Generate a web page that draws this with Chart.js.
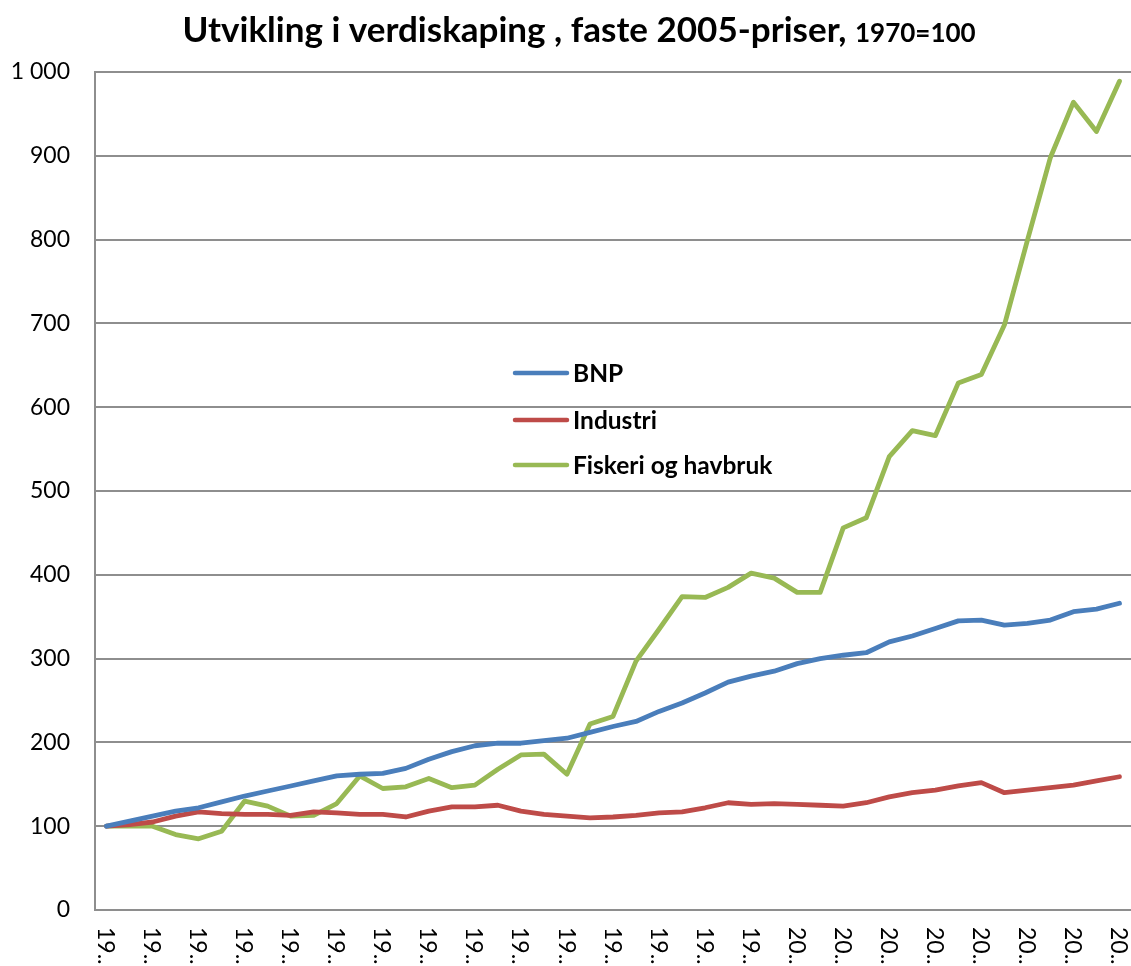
<!DOCTYPE html>
<html>
<head>
<meta charset="utf-8">
<script src="https://cdn.jsdelivr.net/npm/chart.js@4.4.1/dist/chart.umd.min.js"></script>
<style>
  html, body { margin: 0; padding: 0; background: #fff; }
  #wrap { width: 1131px; height: 966px; }
</style>
</head>
<body>
<div id="wrap"><canvas id="chart"></canvas></div>
<script>
const years = [
  "1970", "1971", "1972", "1973", "1974", "1975", "1976", "1977", "1978", "1979",
  "1980", "1981", "1982", "1983", "1984", "1985", "1986", "1987", "1988", "1989",
  "1990", "1991", "1992", "1993", "1994", "1995", "1996", "1997", "1998", "1999",
  "2000", "2001", "2002", "2003", "2004", "2005", "2006", "2007", "2008", "2009",
  "2010", "2011", "2012", "2013", "2014",
];

const bnp = [
  100, 106, 112, 118, 122, 129, 136, 142, 148, 154,
  160, 162, 163, 169, 180, 189, 196, 199, 199, 202,
  205, 212, 219, 225, 237, 247, 259, 272, 279, 285,
  294, 300, 304, 307, 320, 327, 336, 345, 346, 340,
  342, 346, 356, 359, 366,
];

const industri = [
  100, 102, 105, 112, 117, 115, 114, 114, 113, 117,
  116, 114, 114, 111, 118, 123, 123, 125, 118, 114,
  112, 110, 111, 113, 116, 117, 122, 128, 126, 127,
  126, 125, 124, 128, 135, 140, 143, 148, 152, 140,
  143, 146, 149, 154, 159,
];

const fiskeri = [
  100, 100, 100, 90, 85, 94, 130, 124, 112, 113,
  127, 160, 145, 147, 157, 146, 149, 168, 185, 186,
  162, 222, 231, 297, 335, 374, 373, 385, 402, 396,
  379, 379, 456, 468, 541, 572, 566, 629, 639, 698,
  799, 898, 964, 929, 989,
];

const yTicks = [0, 100, 200, 300, 400, 500, 600, 700, 800, 900, 1000];

const FONT = "Lato, 'Open Sans', sans-serif";

// title with a smaller suffix, like the Excel original
const titlePlugin = {
  id: "mixedTitle",
  afterDraw(chart) {
    const ctx = chart.ctx;
    const big = "Utvikling i verdiskaping , faste 2005-priser, ";
    const small = "1970=100";
    ctx.save();
    ctx.fillStyle = "#000";
    ctx.textBaseline = "alphabetic";
    ctx.font = "bold 35px " + FONT;
    const w1 = ctx.measureText(big).width;
    ctx.font = "bold 26px " + FONT;
    const w2 = ctx.measureText(small).width;
    const x = 579 - (w1 + w2) / 2;
    ctx.textAlign = "left";
    ctx.font = "bold 35px " + FONT;
    ctx.fillText(big, x, 42);
    ctx.font = "bold 26px " + FONT;
    ctx.fillText(small, x + w1, 42);
    ctx.restore();
  },
};

// x labels: every other year, cut to "19.." and turned clockwise
const xLabelPlugin = {
  id: "xLabels",
  afterDraw(chart) {
    const ctx = chart.ctx;
    const xs = chart.scales.x;
    ctx.save();
    ctx.fillStyle = "#000";
    ctx.font = "23px " + FONT;
    ctx.textAlign = "left";
    ctx.textBaseline = "middle";
    years.forEach((y, i) => {
      if (i % 2 !== 0) return;
      const px = xs.getPixelForValue(i);
      ctx.save();
      ctx.translate(px - 1, chart.chartArea.bottom + 17);
      ctx.rotate(Math.PI / 2);
      ctx.fillText(y.slice(0, 2) + "..", 0, 0);
      ctx.restore();
    });
    ctx.restore();
  },
};

// legend sits inside the plot area
const legendPlugin = {
  id: "innerLegend",
  afterDraw(chart) {
    const ctx = chart.ctx;
    const x0 = 515, rowY = [373, 420, 465];
    ctx.save();
    ctx.font = "bold 24.5px " + FONT;
    ctx.textBaseline = "middle";
    ctx.textAlign = "left";
    chart.data.datasets.forEach((ds, i) => {
      ctx.strokeStyle = ds.borderColor;
      ctx.lineWidth = 4.5;
      ctx.lineCap = "round";
      ctx.beginPath();
      ctx.moveTo(x0, rowY[i]);
      ctx.lineTo(x0 + 52, rowY[i]);
      ctx.stroke();
      ctx.fillStyle = "#000";
      ctx.fillText(ds.label, x0 + 58, rowY[i] + 1);
    });
    ctx.restore();
  },
};

const ctx = document.getElementById("chart");

const data = {
  labels: years,
  datasets: [
    {
      label: "BNP",
      data: bnp,
      borderColor: "#4a7ebb",
      backgroundColor: "#4a7ebb",
    },
    {
      label: "Industri",
      data: industri,
      borderColor: "#be4b48",
      backgroundColor: "#be4b48",
    },
    {
      label: "Fiskeri og havbruk",
      data: fiskeri,
      borderColor: "#98b954",
      backgroundColor: "#98b954",
    },
  ],
};

const config = {
  type: "line",
  data,
  options: {
    responsive: true,
    maintainAspectRatio: false,
    animation: false,
    devicePixelRatio: 1,
    layout: {
      padding: { top: 72, bottom: 48, left: 0, right: 0 },
    },
    elements: {
      line: { borderWidth: 4.8, tension: 0, borderJoinStyle: "round", borderCapStyle: "round" },
      point: { radius: 0, hoverRadius: 0 },
    },
    scales: {
      x: {
        offset: true,
        grid: { display: false, offset: true },
        border: { display: true, color: "#8e8e8e", width: 2 },
        ticks: { display: false },
      },
      y: {
        min: 0,
        max: 1000,
        afterBuildTicks(scale) {
          scale.ticks = yTicks.map((v) => ({ value: v }));
        },
        afterFit(scale) {
          scale.width = 95;
        },
        grid: { color: "#8e8e8e", lineWidth: 2, drawTicks: false },
        border: { display: true, color: "#8e8e8e", width: 2 },
        ticks: {
          padding: 25,
          color: "#000",
          font: { family: FONT, size: 23 },
          callback: (v) => (v >= 1000 ? "1 000" : String(v)),
        },
      },
    },
    plugins: {
      legend: { display: false },
      title: { display: false },
      tooltip: { enabled: false },
    },
  },
  plugins: [titlePlugin, xLabelPlugin, legendPlugin],
};

const myChart = new Chart(ctx, config);
</script>
</body>
</html>
